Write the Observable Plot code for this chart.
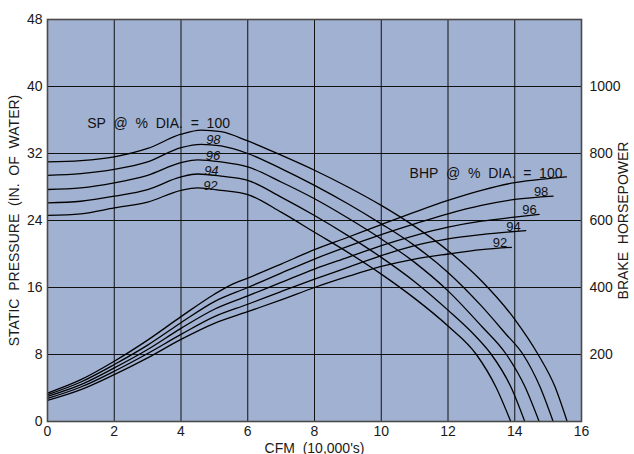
<!DOCTYPE html>
<html>
<head>
<meta charset="utf-8">
<script src="https://cdn.jsdelivr.net/npm/d3@7"></script>
<script src="https://cdn.jsdelivr.net/npm/@observablehq/plot@0.6"></script>
<style>
  html, body { margin: 0; padding: 0; background: #fff; }
  #chart svg { display: block; }
</style>
</head>
<body>
<div id="chart"></div>
<script>
// ---- Static pressure curves (in. of water) vs CFM (10,000's) ----
const sp100x = [0,1,2,3,4,4.6,5.2,6,7,8,9,10,11,12,13,14,14.7,15.2,15.57];
const sp100y = [31.0,31.15,31.6,32.6,34.3,34.8,34.6,33.5,31.8,30.0,28.0,25.8,23.3,20.4,16.8,12.2,8.0,4.2,0];
const sp98x  = [0,1,2,3,4,4.6,5.2,6,7,8,9,10,11,12,13,13.7,14.25,14.75,15.15];
const sp98y  = [29.4,29.6,30.1,31.0,32.7,33.1,32.9,32.0,30.2,28.2,26.0,23.6,21.0,17.8,13.8,10.6,8.0,4.2,0];
const sp96x  = [0,1,2,3,4,4.5,5.2,6,7,8,9,10,11,12,13,13.75,14.3,14.73];
const sp96y  = [27.7,27.9,28.5,29.4,30.9,31.25,31.0,30.4,28.6,26.6,24.3,21.8,19.0,15.6,11.4,8.0,4.2,0];
const sp94x  = [0,1,2,3,4,4.5,5.2,6,7,8,9,10,11,12,12.8,13.3,13.9,14.3];
const sp94y  = [26.1,26.3,26.9,27.7,29.2,29.55,29.3,28.8,26.8,24.6,22.2,19.6,16.7,13.3,10.3,8.0,4.0,0];
const sp92x  = [0,1,2,3,4,4.5,5.2,6,7,8,9,10,11,12,12.85,13.45,13.88];
const sp92y  = [24.6,24.8,25.5,26.2,27.6,27.9,27.6,27.1,25.0,22.6,20.2,17.6,14.7,11.4,8.0,4.0,0];

// ---- Brake horsepower curves vs CFM (10,000's) ----
const bhp100x = [0,1,2,3,4,5,5.5,6,7,8,9,10,11,12,13,14,15,15.55];
const bhp100y = [85,125,180,243,313,380,408,428,470,513,550,588,625,660,690,713,725,730];
const bhp98x  = [0,1,2,3,4,5,6,7,8,9,10,11,12,13,14,15.15];
const bhp98y  = [80,118,170,228,295,358,400,443,485,523,558,590,620,645,663,673];
const bhp96x  = [0,1,2,3,4,5,6,7,8,9,10,11,12,13,14,14.73];
const bhp96y  = [75,110,160,215,278,335,375,415,455,490,525,555,580,598,610,618];
const bhp94x  = [0,1,2,3,4,5,6,7,8,9,10,11,12,13,14.33];
const bhp94y  = [69,103,150,203,260,313,350,388,425,460,495,525,545,558,570];
const bhp92x  = [0,1,2,3,4,5,6,7,8,9,10,11,12,13,13.9];
const bhp92y  = [63,95,140,190,245,293,328,363,400,433,463,485,500,513,520];

// ---- Axis ticks and annotation labels ----
const xTicks = [0,2,4,6,8,10,12,14,16];
const yTicks = [0,8,16,24,32,40,48];
const bhpTicks = [200,400,600,800,1000];
const spLabels = ["SP  @  %  DIA.  =  100","98","96","94","92"];
const spLabelX = [1.19,4.97,4.96,4.91,4.88];
const spLabelY = [35.55,33.6,31.75,29.9,28.1];
const bhpLabels = ["BHP  @  %  DIA.  =  100","98","96","94","92"];
const bhpLabelX = [10.85,14.79,14.44,13.96,13.56];
const bhpLabelY = [29.65,27.46,25.31,23.28,21.29];

const HP_PER_UNIT = 25; // 1200 hp spans the same height as 48 in. of water

function zip(name, xs, ys, scale = 1) {
  return xs.map((x, i) => ({series: name, x, y: ys[i] / scale}));
}
const spRows = [
  ...zip("SP100", sp100x, sp100y), ...zip("SP98", sp98x, sp98y),
  ...zip("SP96", sp96x, sp96y), ...zip("SP94", sp94x, sp94y), ...zip("SP92", sp92x, sp92y)
];
const bhpRows = [
  ...zip("B100", bhp100x, bhp100y, HP_PER_UNIT), ...zip("B98", bhp98x, bhp98y, HP_PER_UNIT),
  ...zip("B96", bhp96x, bhp96y, HP_PER_UNIT), ...zip("B94", bhp94x, bhp94y, HP_PER_UNIT),
  ...zip("B92", bhp92x, bhp92y, HP_PER_UNIT)
];
const spLab = spLabels.map((t, i) => ({t, x: spLabelX[i], y: spLabelY[i], first: i === 0}));
const bhpLab = bhpLabels.map((t, i) => ({t, x: bhpLabelX[i], y: bhpLabelY[i], first: i === 0}));

const bg = "#a1b1d2";
const font = "'Liberation Sans', Arial, Helvetica, sans-serif";

const chart = Plot.plot({
  width: 634,
  height: 454,
  marginTop: 19,
  marginBottom: 33,
  marginLeft: 47,
  marginRight: 53,
  style: {fontFamily: font, fontSize: "14px", color: "#1a1a1a", background: "#fff"},
  x: {domain: [0, 16]},
  y: {domain: [0, 48]},
  marks: [
    Plot.frame({fill: bg, stroke: null}),
    Plot.ruleX(xTicks.slice(1, -1), {stroke: "#111", strokeWidth: 1}),
    Plot.ruleY(yTicks.slice(1, -1), {stroke: "#111", strokeWidth: 1}),
    Plot.line(spRows, {x: "x", y: "y", z: "series", curve: "monotone-x", stroke: "#000", strokeWidth: 1.3}),
    Plot.line(bhpRows, {x: "x", y: "y", z: "series", curve: "monotone-x", stroke: "#000", strokeWidth: 1.3}),
    Plot.text(spLab.filter(d => d.first), {x: "x", y: "y", text: "t", textAnchor: "start", fill: "#111", fontSize: 14}),
    Plot.text(spLab.filter(d => !d.first), {x: "x", y: "y", text: "t", fill: "#111", fontSize: 13, fontStyle: "italic"}),
    Plot.text(bhpLab.filter(d => d.first), {x: "x", y: "y", text: "t", textAnchor: "start", fill: "#111", fontSize: 14}),
    Plot.text(bhpLab.filter(d => !d.first), {x: "x", y: "y", text: "t", fill: "#111", fontSize: 13}),
    Plot.frame({stroke: "#4a4a4a", strokeWidth: 1.6}),
    Plot.axisX({ticks: xTicks, tickSize: 0, tickPadding: 5, fontSize: 14, label: "CFM  (10,000's)", labelAnchor: "center", labelOffset: 31, labelArrow: "none"}),
    Plot.axisY({ticks: yTicks, tickSize: 0, tickPadding: 5, fontSize: 14, label: "STATIC  PRESSURE  (IN.  OF  WATER)", labelAnchor: "center", labelOffset: 38, labelArrow: "none"}),
    Plot.axisY({anchor: "right", ticks: bhpTicks.map(v => v / HP_PER_UNIT), tickFormat: d => String(Math.round(d * HP_PER_UNIT)), tickSize: 0, tickPadding: 8, fontSize: 14, label: "BRAKE  HORSEPOWER", labelAnchor: "center", labelOffset: 46, labelArrow: "none"})
  ]
});
document.getElementById("chart").appendChild(chart);
</script>
</body>
</html>
